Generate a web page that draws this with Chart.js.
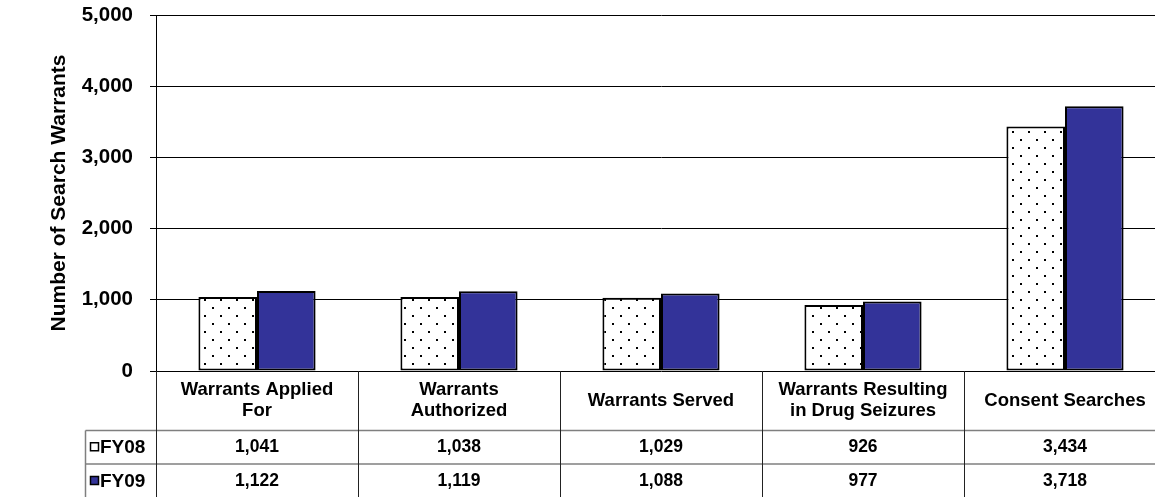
<!DOCTYPE html>
<html>
<head>
<meta charset="utf-8">
<script src="https://cdn.jsdelivr.net/npm/chart.js@4.4.1/dist/chart.umd.min.js"></script>
<style>
html,body{margin:0;padding:0;background:#fff;overflow:hidden;}
#wrap{position:relative;width:1168px;height:497px;}
</style>
</head>
<body>
<div id="wrap"><canvas id="c"></canvas></div>
<script>
const categories = [["Warrants Applied","For"],["Warrants","Authorized"],["Warrants Served"],["Warrants Resulting","in Drug Seizures"],["Consent Searches"]];
const seriesNames = ["FY08","FY09"];
const fy08 = [1041,1038,1029,926,3434];
const fy09 = [1122,1119,1088,977,3718];
const yTicks = [0,1000,2000,3000,4000,5000];
const yTitle = "Number of Search Warrants";

const FONT = "'Liberation Sans', Arial, sans-serif";
const NAVY = "#333399";

function dotPattern(){
  const t = document.createElement('canvas');
  t.width = 16; t.height = 16;
  const g = t.getContext('2d');
  g.fillStyle = '#fff'; g.fillRect(0,0,16,16);
  g.fillStyle = '#000';
  g.fillRect(4,3,2,2);
  g.fillRect(12,11,2,2);
  return g.createPattern(t,'repeat');
}
const pat = dotPattern();
const fmt = v => v.toLocaleString('en-US');

const tablePlugin = {
  id: 'dataTable',
  afterDraw(chart){
    const ctx = chart.ctx;
    const x = chart.scales.x;
    const ca = chart.chartArea;
    const n = categories.length;
    const w = (x.right - x.left) / n;
    const top = ca.bottom;
    const r1 = top + 59.5, r2 = top + 93;
    const bottom = chart.height + 5;
    const legLeft = 85.5;
    ctx.save();
    ctx.strokeStyle = '#7f7f7f';
    ctx.lineWidth = 1.5;
    [r1, r2].forEach(y => {
      ctx.beginPath(); ctx.moveTo(legLeft, y); ctx.lineTo(chart.width, y); ctx.stroke();
    });
    ctx.beginPath(); ctx.moveTo(legLeft, r1); ctx.lineTo(legLeft, bottom); ctx.stroke();
    ctx.strokeStyle = '#222';
    ctx.lineWidth = 1;
    for (let i = 0; i <= n; i++) {
      const xx = Math.round(x.left + i * w) + 0.5;
      ctx.beginPath(); ctx.moveTo(xx, top); ctx.lineTo(xx, bottom); ctx.stroke();
    }
    ctx.fillStyle = '#000';
    ctx.textAlign = 'center';
    ctx.textBaseline = 'middle';
    ctx.font = "bold 18.5px " + FONT;
    const lh = 21;
    const hc = (top + r1) / 2;
    categories.forEach((lines, i) => {
      const cx = x.getPixelForValue(i);
      const y0 = hc - (lines.length - 1) * lh / 2;
      lines.forEach((s, k) => ctx.fillText(s, cx, y0 + k * lh));
    });
    ctx.font = "bold 17.5px " + FONT;
    const rows = [fy08, fy09];
    const rc = [(r1 + r2) / 2, (r2 + chart.height) / 2 + 0.5];
    rows.forEach((arr, j) => {
      arr.forEach((v, i) => ctx.fillText(fmt(v), x.getPixelForValue(i), rc[j]));
    });
    ctx.textAlign = 'left';
    ctx.font = "bold 19px " + FONT;
    seriesNames.forEach((s, j) => {
      const yy = rc[j];
      ctx.fillStyle = j === 0 ? '#fff' : NAVY;
      ctx.fillRect(90.5, yy - 4.5, 8, 8);
      ctx.strokeStyle = '#000'; ctx.lineWidth = 1.5;
      ctx.strokeRect(90.5, yy - 4.5, 8, 8);
      ctx.fillStyle = '#000';
      ctx.fillText(s, 100, yy + 0.5);
    });
    ctx.restore();
  }
};

new Chart(document.getElementById('c'), {
  type: 'bar',
  data: {
    labels: categories.map(l => l.join(' ')),
    datasets: [
      { label: seriesNames[0], data: fy08, backgroundColor: pat, borderColor: '#000', borderWidth: 2, borderSkipped: false },
      { label: seriesNames[1], data: fy09, backgroundColor: NAVY, borderColor: '#000', borderWidth: 2, borderSkipped: false }
    ]
  },
  options: {
    responsive: true,
    maintainAspectRatio: false,
    animation: false,
    devicePixelRatio: 1,
    categoryPercentage: 0.58,
    barPercentage: 1.0,
    layout: { padding: { top: 15, bottom: 126, left: 0, right: 2 } },
    plugins: { legend: { display: false }, tooltip: { enabled: false } },
    scales: {
      x: {
        ticks: { display: false },
        grid: { display: false, drawTicks: false },
        border: { display: false }
      },
      y: {
        min: 0, max: 5000,
        afterBuildTicks: s => { s.ticks = yTicks.map(v => ({ value: v })); },
        afterFit: s => { s.width = 156; s.paddingTop = 0; s.paddingBottom = 0; },
        ticks: {
          color: '#000',
          padding: 17,
          font: { family: FONT, size: 20.5, weight: 'bold' },
          callback: v => fmt(v)
        },
        grid: { color: '#000', lineWidth: 1, tickLength: 6 },
        border: { color: '#000', width: 1 },
        title: {
          display: true, text: yTitle, color: '#000',
          font: { family: FONT, size: 21, weight: 'bold' },
          padding: { top: 47, bottom: 0 }
        }
      }
    }
  },
  plugins: [tablePlugin]
});
</script>
</body>
</html>
